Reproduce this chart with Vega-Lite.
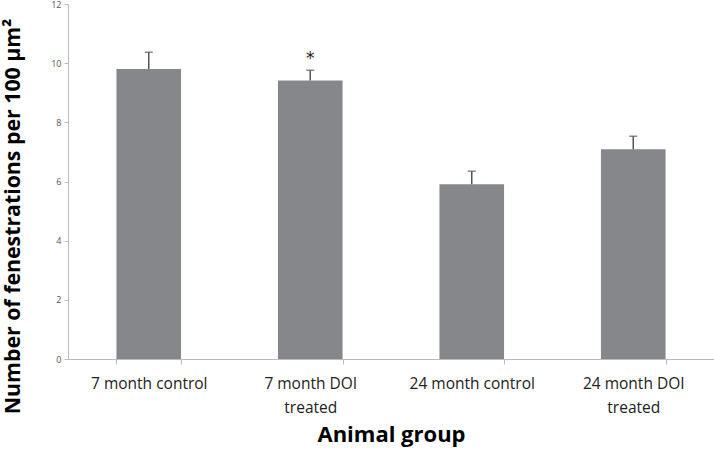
{
  "$schema": "https://vega.github.io/schema/vega-lite/v6.json",
  "autosize": "none",
  "width": 646,
  "height": 355,
  "padding": {"left": 68, "top": 4, "right": 0, "bottom": 94},
  "background": "white",
  "config": {"view": {"stroke": null}, "font": "Open Sans"},
  "data": {
    "values": [
      {"group": "7 month control", "mean": 9.8, "upper": 10.37, "sig": ""},
      {"group": "7 month DOI treated", "mean": 9.41, "upper": 9.76, "sig": "*"},
      {"group": "24 month control", "mean": 5.91, "upper": 6.35, "sig": ""},
      {"group": "24 month DOI treated", "mean": 7.09, "upper": 7.53, "sig": ""}
    ]
  },
  "encoding": {
    "x": {
      "field": "group",
      "type": "nominal",
      "sort": null,
      "scale": {"paddingInner": 0.6, "paddingOuter": 0.3},
      "axis": {
        "title": "Animal group",
        "titleFont": "Open Sans",
        "titleFontSize": 22,
        "titleFontWeight": "bold",
        "titleColor": "#000",
        "titlePadding": 9,
        "labelAngle": 0,
        "labelFont": "Open Sans",
        "labelFontSize": 15.5,
        "labelColor": "#222",
        "labelLineHeight": 24,
        "labelPadding": 12,
        "labelExpr": "indexof(datum.label, 'DOI') > 0 ? [replace(datum.label, ' treated', ''), 'treated'] : datum.label",
        "tickBand": "extent",
        "tickSize": 5,
        "tickColor": "#bbb",
        "domainColor": "#bbb",
        "grid": false
      }
    }
  },
  "layer": [
    {
      "mark": {"type": "bar", "color": "#86878b"},
      "encoding": {
        "y": {
          "field": "mean",
          "type": "quantitative",
          "scale": {"domain": [0, 12], "nice": false},
          "axis": {
            "title": "Number of fenestrations per 100 µm²",
            "titleFont": "Open Sans",
            "titleFontSize": 21.3,
            "titleFontWeight": "bold",
            "titleColor": "#000",
            "titleX": -49,
            "titleY": 212,
            "titleBaseline": "alphabetic",
            "titleAngle": -90,
            "values": [0, 2, 4, 6, 8, 10, 12],
            "labelFontSize": 9,
            "labelColor": "#555",
            "labelPadding": 3,
            "tickSize": 4,
            "tickColor": "#bbb",
            "domainColor": "#bbb",
            "grid": false
          }
        }
      }
    },
    {
      "mark": {"type": "rule", "color": "#555", "strokeWidth": 1.5},
      "encoding": {
        "y": {"field": "mean", "type": "quantitative"},
        "y2": {"field": "upper"}
      }
    },
    {
      "mark": {"type": "tick", "color": "#555", "size": 8, "thickness": 1.5},
      "encoding": {
        "y": {"field": "upper", "type": "quantitative"}
      }
    },
    {
      "mark": {"type": "text", "fontSize": 17, "font": "DejaVu Sans", "color": "#222", "baseline": "middle", "dy": 3},
      "encoding": {
        "y": {"datum": 10.25, "type": "quantitative"},
        "text": {"field": "sig"}
      }
    }
  ]
}
